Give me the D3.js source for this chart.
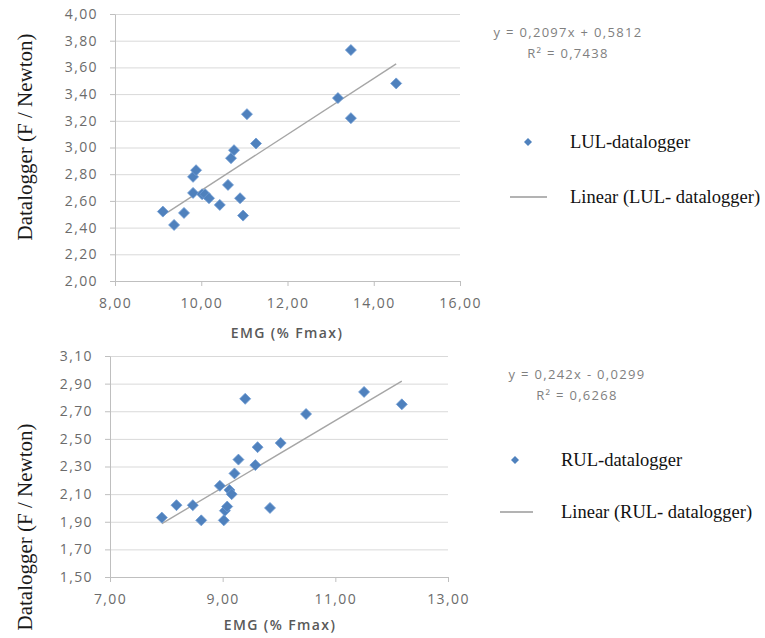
<!DOCTYPE html>
<html>
<head>
<meta charset="utf-8">
<script src="https://cdn.jsdelivr.net/npm/d3@7"></script>
<style>
  body { margin: 0; background: #fff; }
  .tick text { font-family: "Open Sans", sans-serif; font-size: 14px; fill: #6b6b6b; letter-spacing: 1.4px; }
  .axis path, .axis line { stroke: #bfbfbf; }
  .grid line { stroke: #d9d9d9; }
  .grid path { display: none; }
</style>
</head>
<body>
<svg id="chart"></svg>
<script>
// --- data ---
var lulEmg   = [9.11, 9.37, 9.60, 9.81, 9.81, 9.88, 10.02, 10.09, 10.18, 10.43, 10.62, 10.69, 10.76, 10.90, 10.97, 11.06, 11.27, 13.17, 13.47, 13.47, 14.52];
var lulForce = [2.52, 2.42, 2.51, 2.66, 2.78, 2.83, 2.65, 2.65, 2.62, 2.57, 2.72, 2.92, 2.98, 2.62, 2.49, 3.25, 3.03, 3.37, 3.73, 3.22, 3.48];
var lulTrend = [0.2097, 0.5812];   // slope, intercept
var lulEq    = ["y = 0,2097x + 0,5812", "R² = 0,7438"];
var lulXTicks = [8, 10, 12, 14, 16];
var lulYTicks = [2.0, 2.2, 2.4, 2.6, 2.8, 3.0, 3.2, 3.4, 3.6, 3.8, 4.0];

var rulEmg   = [7.92, 8.18, 8.47, 8.62, 8.95, 9.02, 9.04, 9.08, 9.12, 9.16, 9.21, 9.28, 9.40, 9.58, 9.62, 9.84, 10.03, 10.48, 11.51, 12.18];
var rulForce = [1.93, 2.02, 2.02, 1.91, 2.16, 1.91, 1.98, 2.01, 2.13, 2.10, 2.25, 2.35, 2.79, 2.31, 2.44, 2.00, 2.47, 2.68, 2.84, 2.75];
var rulTrend = [0.242, -0.0299];
var rulEq    = ["y = 0,242x - 0,0299", "R² = 0,6268"];
var rulXTicks = [7, 9, 11, 13];
var rulYTicks = [1.5, 1.7, 1.9, 2.1, 2.3, 2.5, 2.7, 2.9, 3.1];

var xTitle = "EMG (% Fmax)";
var yTitle = "Datalogger (F / Newton)";

var W = 765, H = 638;
var svg = d3.select("#chart").attr("width", W).attr("height", H);

var fmt = function(d) { return d3.format(".2f")(d).replace(".", ","); };

var panels = [
  { emg: lulEmg, force: lulForce, trend: lulTrend, eq: lulEq, xt: lulXTicks, yt: lulYTicks,
    name: "LUL-datalogger", trendName: "Linear (LUL- datalogger)",
    left: 115, right: 460, top: 14, bottom: 281,
    yTitleY: 137, xTitleX: 287, xTitleY: 338,
    eqX: 568, eqY: 37, legX: 528, legY: 142, legTextX: 570, line2Y: 197, lineX0: 510, lineX1: 547 },
  { emg: rulEmg, force: rulForce, trend: rulTrend, eq: rulEq, xt: rulXTicks, yt: rulYTicks,
    name: "RUL-datalogger", trendName: "Linear (RUL- datalogger)",
    left: 110, right: 448, top: 356, bottom: 577,
    yTitleY: 527, xTitleX: 280, xTitleY: 630,
    eqX: 577, eqY: 379, legX: 515, legY: 460, legTextX: 561, line2Y: 512, lineX0: 500, lineX1: 533 }
];

panels.forEach(function(p) {
  var x = d3.scaleLinear()
      .domain(d3.extent(p.xt))
      .range([p.left, p.right]);
  var y = d3.scaleLinear()
      .domain(d3.extent(p.yt))
      .range([p.bottom, p.top]);

  var g = svg.append("g");

  // horizontal gridlines
  g.append("g")
      .attr("class", "grid")
      .attr("transform", "translate(" + p.left + ",0)")
      .call(d3.axisLeft(y).tickValues(p.yt).tickSize(-(p.right - p.left)).tickFormat(""));

  // y axis
  g.append("g")
      .attr("class", "axis")
      .attr("transform", "translate(" + p.left + ",0)")
      .call(d3.axisLeft(y).tickValues(p.yt).tickSize(5).tickSizeOuter(0).tickPadding(12).tickFormat(fmt));

  // x axis
  g.append("g")
      .attr("class", "axis")
      .attr("transform", "translate(0," + p.bottom + ")")
      .call(d3.axisBottom(x).tickValues(p.xt).tickSize(5).tickSizeOuter(0).tickPadding(12).tickFormat(fmt));

  // trendline over data range
  var xr = d3.extent(p.emg);
  g.append("path")
      .datum(xr)
      .attr("fill", "none")
      .attr("stroke", "#a6a6a6")
      .attr("stroke-width", 1.4)
      .attr("d", d3.line()
        .x(function(d) { return x(d); })
        .y(function(d) { return y(p.trend[0] * d + p.trend[1]); }));

  // diamond markers
  var diamond = "M0,-5.5L5.5,0L0,5.5L-5.5,0Z";
  g.selectAll("path.pt")
      .data(d3.range(p.emg.length))
      .enter().append("path")
      .attr("class", "pt")
      .attr("d", diamond)
      .attr("fill", "#4f81bd")
      .attr("stroke", "#6d9bd3")
      .attr("stroke-width", 0.8)
      .attr("transform", function(i) {
        return "translate(" + x(p.emg[i]) + "," + y(p.force[i]) + ")";
      });

  // axis titles
  g.append("text")
      .attr("x", p.xTitleX)
      .attr("y", p.xTitleY)
      .attr("text-anchor", "middle")
      .style("font-family", "'Open Sans', sans-serif")
      .style("font-size", "14px")
      .style("font-weight", 600)
      .style("letter-spacing", "1.4px")
      .style("fill", "#595959")
      .text(xTitle);

  g.append("text")
      .attr("transform", "translate(25," + p.yTitleY + ") rotate(-90)")
      .attr("text-anchor", "middle")
      .attr("dy", "0.35em")
      .style("font-family", "'Liberation Serif', 'Times New Roman', serif")
      .style("font-size", "21px")
      .style("fill", "#1a1a1a")
      .text(yTitle);

  // equation + R²
  g.selectAll("text.eq")
      .data(p.eq)
      .enter().append("text")
      .attr("class", "eq")
      .attr("x", p.eqX)
      .attr("y", function(d, i) { return p.eqY + i * 21; })
      .attr("text-anchor", "middle")
      .style("font-family", "'Open Sans', sans-serif")
      .style("font-size", "13px")
      .style("letter-spacing", "1.3px")
      .style("fill", "#7f7f7f")
      .text(function(d) { return d; });

  // legend
  g.append("path")
      .attr("d", "M0,-4L4,0L0,4L-4,0Z")
      .attr("fill", "#4f81bd")
      .attr("transform", "translate(" + p.legX + "," + p.legY + ")");
  g.append("line")
      .attr("x1", p.lineX0).attr("x2", p.lineX1)
      .attr("y1", p.line2Y).attr("y2", p.line2Y)
      .attr("stroke", "#9a9a9a")
      .attr("stroke-width", 1.4);
  g.selectAll("text.leg")
      .data([[p.name, p.legY], [p.trendName, p.line2Y]])
      .enter().append("text")
      .attr("class", "leg")
      .attr("x", p.legTextX)
      .attr("y", function(d) { return d[1]; })
      .attr("dy", "0.35em")
      .style("font-family", "'Liberation Serif', 'Times New Roman', serif")
      .style("font-size", "18.5px")
      .style("fill", "#111")
      .text(function(d) { return d[0]; });
});
</script>
</body>
</html>
